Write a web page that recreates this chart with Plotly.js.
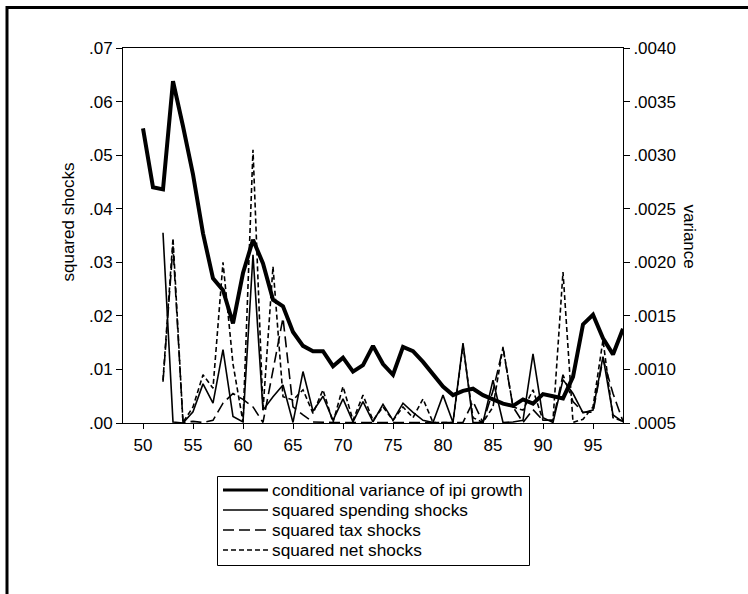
<!DOCTYPE html>
<html>
<head>
<meta charset="utf-8">
<script src="https://cdn.plot.ly/plotly-3.0.1.min.js"></script>
<style>html,body{margin:0;padding:0;background:#fff;overflow:hidden;}#chart{width:748px;height:594px;overflow:hidden;}</style>
</head>
<body>
<div id="chart"></div>
<script>
// ---- data ----
var years = [50,51,52,53,54,55,56,57,58,59,60,61,62,63,64,65,66,67,68,69,70,71,72,73,74,75,76,77,78,79,80,81,82,83,84,85,86,87,88,89,90,91,92,93,94,95,96,97,98];
var shockYears = [52,53,54,55,56,57,58,59,60,61,62,63,64,65,66,67,68,69,70,71,72,73,74,75,76,77,78,79,80,81,82,83,84,85,86,87,88,89,90,91,92,93,94,95,96,97,98];
var condVariance = [0.00325,0.00270,0.00268,0.00369,0.00327,0.00282,0.00227,0.00185,0.00174,0.00143,0.00190,0.00221,0.00199,0.00165,0.00159,0.00135,0.00122,0.00117,0.00117,0.00103,0.00111,0.00098,0.00104,0.00122,0.00105,0.00095,0.00121,0.00117,0.00107,0.00095,0.00084,0.00076,0.00080,0.00082,0.00076,0.00072,0.00068,0.00066,0.00072,0.00068,0.00077,0.00075,0.00073,0.00093,0.00142,0.00151,0.00129,0.00114,0.00138];
var spendingSq = [0.0355,0.0002,0.0000,0.0021,0.0073,0.0037,0.0137,0.0012,0.0002,0.0314,0.0024,0.0049,0.0071,0.0001,0.0096,0.0022,0.0050,0.0005,0.0045,0.0002,0.0040,0.0002,0.0035,0.0005,0.0037,0.0020,0.0005,0.0001,0.0052,0.0001,0.0149,0.0001,0.0001,0.0080,0.0001,0.0002,0.0005,0.0129,0.0010,0.0001,0.0081,0.0055,0.0019,0.0024,0.0124,0.0015,0.0002];
var taxSq = [0.0077,0.0330,0.0001,0.0003,0.0001,0.0005,0.0037,0.0055,0.0044,0.0030,0.0001,0.0098,0.0196,0.0030,0.0015,0.0002,0.0001,0.0001,0.0001,0.0001,0.0001,0.0001,0.0001,0.0001,0.0001,0.0001,0.0001,0.0001,0.0001,0.0001,0.0001,0.0040,0.0001,0.0060,0.0140,0.0030,0.0001,0.0025,0.0005,0.0005,0.0090,0.0040,0.0020,0.0020,0.0120,0.0055,0.0003];
var netSq = [0.0080,0.0345,0.0001,0.0030,0.0090,0.0065,0.0300,0.0110,0.0002,0.0510,0.0024,0.0292,0.0049,0.0043,0.0062,0.0018,0.0062,0.0001,0.0068,0.0005,0.0052,0.0005,0.0030,0.0005,0.0030,0.0010,0.0045,0.0001,0.0001,0.0001,0.0145,0.0010,0.0001,0.0030,0.0142,0.0030,0.0024,0.0062,0.0005,0.0005,0.0282,0.0001,0.0007,0.0030,0.0155,0.0010,0.0003];

var seriesNames = ["conditional variance of ipi growth","squared spending shocks","squared tax shocks","squared net shocks"];
var xTicks = [50,55,60,65,70,75,80,85,90,95];
var yLeftTicks = [0,0.01,0.02,0.03,0.04,0.05,0.06,0.07];
var yLeftLabels = [".00",".01",".02",".03",".04",".05",".06",".07"];
var yRightTicks = [0.0005,0.0010,0.0015,0.0020,0.0025,0.0030,0.0035,0.0040];
var yRightLabels = [".0005",".0010",".0015",".0020",".0025",".0030",".0035",".0040"];
var leftTitle = "squared shocks";
var rightTitle = "variance";

var FONT = "Liberation Sans, Arial, sans-serif";
var styles = [
  {color: "#000", width: 4},
  {color: "#000", width: 1.6},
  {color: "#000", width: 1.6, dash: "11px,5px"},
  {color: "#000", width: 1.6, dash: "5px,3px"}
];
var legendStyles = [
  {color: "#000", width: 3},
  {color: "#000", width: 1.5},
  {color: "#000", width: 1.5, dash: "11px,5px"},
  {color: "#000", width: 1.5, dash: "5px,3px"}
];

var traces = [
  {x: years, y: condVariance, name: seriesNames[0], yaxis: "y2", mode: "lines", line: styles[0]},
  {x: shockYears, y: spendingSq, name: seriesNames[1], mode: "lines", line: styles[1]},
  {x: shockYears, y: taxSq, name: seriesNames[2], mode: "lines", line: styles[2]},
  {x: shockYears, y: netSq, name: seriesNames[3], mode: "lines", line: styles[3]}
];

// pixel -> paper helpers (plot area: x 123..623, y 48..423)
function px(p){ return (p-123)/500; }
function py(p){ return (423-p)/375; }

var shapes = [
  {type: "line", xref: "paper", yref: "paper", x0: px(7), x1: px(748), y0: py(7.5), y1: py(7.5), line: {color: "#000", width: 3}},
  {type: "line", xref: "paper", yref: "paper", x0: px(7), x1: px(7), y0: py(6), y1: py(594), line: {color: "#000", width: 3}},
  {type: "rect", xref: "paper", yref: "paper", x0: px(217.5), x1: px(529.5), y0: py(476.5), y1: py(565.5), line: {color: "#000", width: 1}, fillcolor: "#fff"}
];
var annotations = [
  {text: leftTitle, xref: "paper", yref: "paper", x: px(56), y: py(222), textangle: -90, showarrow: false, font: {family: FONT, size: 17, color: "#000"}},
  {text: rightTitle, xref: "paper", yref: "paper", x: px(701), y: py(236), textangle: 90, showarrow: false, font: {family: FONT, size: 17, color: "#000"}}
];
for (var i = 0; i < seriesNames.length; i++) {
  var rowY = 490 + 20*i;
  shapes.push({type: "line", xref: "paper", yref: "paper", x0: px(223), x1: px(268), y0: py(rowY), y1: py(rowY), line: legendStyles[i]});
  annotations.push({text: seriesNames[i], xref: "paper", yref: "paper", x: px(270), y: py(rowY), xanchor: "left", yanchor: "middle",
                    showarrow: false, font: {family: FONT, size: 17.3, color: "#000"}});
}

var layout = {
  width: 748, height: 594,
  margin: {l: 123, r: 125, t: 48, b: 171},
  paper_bgcolor: "#fff", plot_bgcolor: "#fff",
  font: {family: FONT, size: 17, color: "#000"},
  showlegend: false,
  xaxis: {range: [48, 98], tickvals: xTicks, ticks: "outside", ticklen: 5, tickcolor: "#000", ticklabelstandoff: 2,
          showline: true, linecolor: "#000", linewidth: 1, mirror: true, showgrid: false, zeroline: false},
  yaxis: {range: [0, 0.07], tickvals: yLeftTicks, ticktext: yLeftLabels, ticks: "outside", ticklen: 6, tickcolor: "#000",
          showline: true, linecolor: "#000", linewidth: 1, showgrid: false, zeroline: false},
  yaxis2: {range: [0.0005, 0.0040], overlaying: "y", side: "right", tickvals: yRightTicks, ticktext: yRightLabels,
           ticks: "outside", ticklen: 6, tickcolor: "#000", showline: true, linecolor: "#000", linewidth: 1,
           showgrid: false, zeroline: false},
  annotations: annotations,
  shapes: shapes
};

Plotly.newPlot("chart", traces, layout, {staticPlot: true, displayModeBar: false});
</script>
</body>
</html>
